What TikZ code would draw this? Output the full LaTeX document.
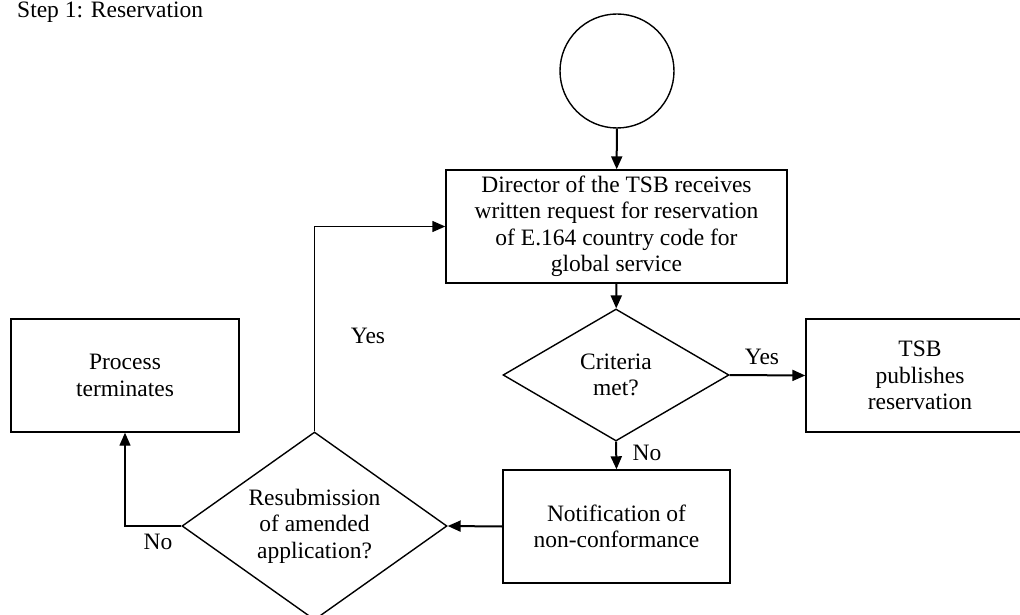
\documentclass[tikz,border=0pt]{standalone}
\usepackage{fontspec}
\setmainfont{Liberation Serif}
\usetikzlibrary{shapes.geometric,arrows.meta}
\begin{document}
\begin{tikzpicture}[x=1pt,y=-1pt,
  every node/.style={font=\fontsize{23.5}{26.5}\selectfont},
  box/.style={draw,line width=1.4pt,rectangle,inner sep=0pt,align=center},
  dec/.style={draw,line width=1.4pt,diamond,inner sep=0pt,align=center},
  startc/.style={draw,line width=1.4pt,circle,inner sep=0pt,minimum size=114pt},
  flow/.style={line width=2pt,-{Triangle[length=13pt,width=11pt]}},
  thinflow/.style={line width=1.4pt,-{Triangle[length=13pt,width=11pt]}},
  lab/.style={inner sep=0pt}]
\useasboundingbox (0,0) rectangle (1020,615);
\node[lab,anchor=base west] (title) at (17,18) {Step 1: Reservation};
\node[startc] (start) at (617,71) {};
\node[box,minimum width=341pt,minimum height=113pt] (dir) at (616.5,226.5)
  {Director of the TSB receives\\written request for reservation\\of E.164 country code for\\global service};
\node[dec,shape aspect=1.71,minimum width=226pt,minimum height=132pt] (crit) at (616,375) {Criteria\\met?};
\node[box,minimum width=228pt,minimum height=113pt] (tsb) at (920,375.5) {TSB\\publishes\\reservation};
\node[box,minimum width=227pt,minimum height=113pt] (notif) at (616.5,526.5) {Notification of\\non-conformance};
\node[dec,shape aspect=1.41,minimum width=265pt,minimum height=188pt] (resub) at (314.5,526) {Resubmission\\of amended\\application?};
\node[box,minimum width=228pt,minimum height=113pt] (proc) at (125,375.5) {Process\\terminates};
\draw[flow] (start) -- (dir);
\draw[flow] (dir) -- (crit);
\draw[flow] (crit.east) -- (tsb.west);
\draw[flow] (crit.south) -- (notif.north);
\draw[flow] (notif.west) -- (resub.east);
\draw[thinflow] (resub.north) |- (dir.west);
\draw[thinflow] (resub.west) -| (proc.south);
\node[lab] (yes1) at (762,357) {Yes};
\node[lab] (no1) at (647,453) {No};
\node[lab] (yes2) at (368,336) {Yes};
\node[lab] (no2) at (158,542) {No};
\end{tikzpicture}
\end{document}
